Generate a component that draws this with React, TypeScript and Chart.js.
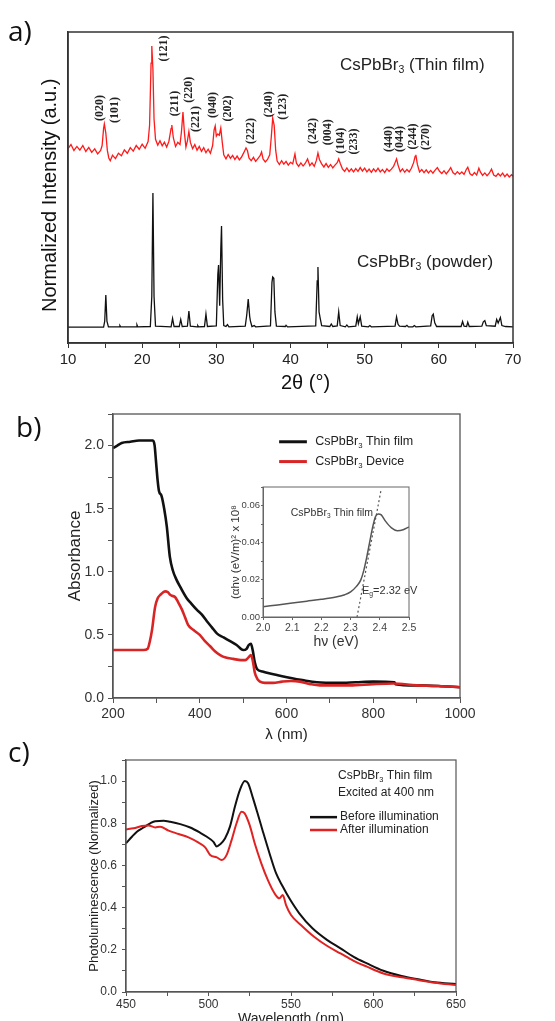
import React, { useEffect, useRef } from 'react';
import { Chart, registerables } from 'chart.js';
Chart.register(...registerables);

const FAMILY = '"Liberation Sans", Arial, sans-serif';
Chart.defaults.font.family = FAMILY;

// ---------------- Panel a: XRD ----------------
const xrdFilm: [number, number][] = [
  [10.0, 62.5], [10.4, 63.8], [10.8, 61.9], [11.2, 63.2], [11.6, 62.0], [12.0, 63.5], [12.4, 61.6], [12.8, 62.9],
  [13.2, 61.3], [13.6, 62.4], [14.0, 60.8], [14.4, 61.9], [14.6, 63.5], [14.8, 69.0], [14.9, 70.4], [15.1, 67.5],
  [15.3, 62.0], [15.5, 59.5], [15.7, 58.6], [16.0, 60.4], [16.4, 59.3], [16.8, 61.0], [17.2, 60.2], [17.6, 62.1],
  [18.0, 61.0], [18.4, 62.8], [18.8, 61.7], [19.2, 63.5], [19.6, 62.3], [20.0, 63.9], [20.4, 62.6], [20.8, 64.8],
  [21.0, 70.0], [21.2, 90.0], [21.3, 95.5], [21.45, 88.0], [21.6, 72.0], [21.8, 65.5], [22.1, 63.6], [22.4, 65.0],
  [22.7, 63.4], [23.0, 64.6], [23.3, 63.0], [23.6, 64.8], [23.9, 69.0], [24.0, 70.1], [24.2, 66.0], [24.5, 63.2],
  [24.8, 64.5], [25.1, 63.8], [25.3, 68.0], [25.5, 74.3], [25.7, 67.5], [25.9, 63.0], [26.1, 65.0], [26.3, 68.0],
  [26.5, 64.5], [26.8, 62.5], [27.1, 63.8], [27.4, 62.0], [27.7, 63.2], [28.0, 61.6], [28.3, 62.8], [28.6, 61.2],
  [28.9, 62.3], [29.2, 61.0], [29.5, 63.5], [29.7, 68.5], [29.85, 69.8], [30.0, 66.5], [30.2, 67.2], [30.4, 66.8],
  [30.6, 69.1], [30.8, 64.5], [31.0, 60.5], [31.3, 59.2], [31.6, 60.6], [31.9, 59.4], [32.2, 60.3], [32.5, 59.0],
  [32.8, 60.1], [33.1, 58.9], [33.4, 59.8], [33.7, 61.2], [34.0, 62.7], [34.2, 61.8], [34.4, 59.5], [34.7, 58.6],
  [35.0, 59.7], [35.3, 58.4], [35.6, 59.3], [35.9, 60.2], [36.1, 61.4], [36.3, 59.2], [36.6, 58.2], [36.9, 59.0],
  [37.2, 60.5], [37.4, 66.0], [37.6, 72.3], [37.8, 70.0], [38.0, 62.0], [38.2, 58.5], [38.5, 57.4], [38.8, 58.6],
  [39.1, 57.5], [39.4, 58.4], [39.7, 57.2], [40.0, 58.1], [40.3, 57.6], [40.6, 60.8], [40.8, 57.8], [41.1, 56.8],
  [41.4, 57.9], [41.7, 56.9], [42.0, 57.8], [42.3, 59.2], [42.6, 57.0], [42.9, 57.9], [43.2, 56.8], [43.5, 58.8],
  [43.7, 61.1], [43.9, 59.0], [44.2, 57.6], [44.5, 56.6], [44.8, 57.7], [45.1, 56.5], [45.4, 57.4], [45.7, 56.3],
  [46.0, 57.2], [46.3, 58.0], [46.5, 59.2], [46.7, 57.8], [47.0, 56.0], [47.3, 55.2], [47.6, 56.3], [47.9, 55.1],
  [48.2, 56.0], [48.5, 55.0], [48.8, 56.1], [49.1, 55.2], [49.4, 56.4], [49.7, 55.3], [50.0, 56.2], [50.3, 55.0],
  [50.6, 55.9], [50.9, 54.9], [51.2, 56.0], [51.5, 55.1], [51.8, 56.2], [52.1, 55.0], [52.4, 55.8], [52.7, 54.8],
  [53.0, 56.0], [53.3, 55.2], [53.6, 55.9], [53.9, 56.8], [54.1, 58.0], [54.3, 59.2], [54.5, 57.2], [54.8, 55.1],
  [55.1, 56.0], [55.4, 54.9], [55.7, 55.8], [56.0, 55.0], [56.3, 56.2], [56.6, 58.0], [56.8, 60.0], [56.9, 60.5],
  [57.1, 57.5], [57.4, 55.0], [57.7, 55.8], [58.0, 54.8], [58.3, 55.7], [58.6, 54.7], [58.9, 55.5], [59.2, 54.6],
  [59.5, 55.6], [59.8, 56.4], [60.1, 55.2], [60.4, 54.5], [60.7, 55.4], [61.0, 54.4], [61.3, 55.3], [61.6, 56.4],
  [61.9, 54.8], [62.2, 54.2], [62.5, 55.1], [62.8, 54.3], [63.1, 55.0], [63.4, 54.2], [63.7, 55.8], [63.9, 56.5],
  [64.2, 54.4], [64.5, 53.9], [64.8, 54.8], [65.1, 54.0], [65.4, 56.2], [65.6, 55.0], [65.9, 53.9], [66.2, 54.7],
  [66.5, 53.8], [66.8, 54.6], [67.1, 55.9], [67.4, 54.0], [67.7, 53.6], [68.0, 54.5], [68.3, 53.7], [68.6, 54.6],
  [68.9, 53.5], [69.2, 54.3], [69.5, 53.4], [69.8, 54.1], [70.0, 53.6],
];

const xrdPowder: [number, number][] = [
  [10, 5.1], [14.8, 5.1], [14.95, 7], [15.1, 15.4], [15.25, 7], [15.45, 5.2], [16.9, 5.2], [17.0, 5.6], [17.1, 5.2],
  [19.2, 5.2], [19.3, 5.8], [19.4, 5.2], [21.1, 5.3], [21.3, 15], [21.45, 48.2], [21.6, 15], [21.8, 5.4],
  [23.9, 5.2], [24.1, 7.9], [24.3, 5.3], [25.0, 5.3], [25.2, 7.6], [25.4, 5.3], [26.1, 5.4], [26.3, 10.3], [26.5, 5.4],
  [27.4, 5.2], [27.5, 5.6], [27.6, 5.2], [28.4, 5.3], [28.6, 9.3], [28.8, 5.3], [30.0, 5.5], [30.2, 22], [30.3, 25.1],
  [30.45, 12], [30.6, 30], [30.7, 37.6], [30.85, 14], [31.0, 5.6], [31.3, 5.3], [31.5, 5.9], [31.7, 5.2],
  [33.9, 5.4], [34.1, 9], [34.3, 14.1], [34.5, 8.5], [34.6, 7], [34.8, 5.3], [35.1, 5.6], [35.3, 5.2],
  [37.3, 5.5], [37.5, 19.5], [37.6, 21.2], [37.75, 20.8], [37.9, 10], [38.1, 5.4], [39.3, 5.3], [39.4, 5.7], [39.6, 5.2],
  [43.4, 5.5], [43.6, 20], [43.7, 24.4], [43.85, 10], [44.0, 8], [44.2, 5.6], [45.3, 5.3], [45.5, 6.1], [45.7, 5.3],
  [46.3, 5.5], [46.5, 10.0], [46.7, 5.6], [47.4, 5.2], [47.6, 5.8], [47.8, 5.2], [48.8, 5.4], [49.0, 8.4], [49.15, 6.2],
  [49.4, 8.4], [49.6, 5.4], [50.5, 5.2], [50.7, 5.6], [50.9, 5.2], [54.1, 5.4], [54.3, 8.4], [54.5, 6], [54.7, 5.4],
  [55.5, 5.3], [55.7, 5.7], [55.9, 5.2], [56.5, 5.2], [56.7, 5.6], [56.9, 5.2], [58.9, 5.5], [59.1, 8.8], [59.25, 9.3],
  [59.45, 6.5], [59.7, 5.3], [63.0, 5.3], [63.2, 6.9], [63.4, 5.4], [63.75, 5.3], [63.9, 6.7], [64.1, 5.3],
  [65.8, 5.4], [66.0, 6.8], [66.2, 7.2], [66.4, 5.6], [67.6, 5.4], [67.8, 7.6], [68.0, 6.4], [68.3, 8.2], [68.5, 5.6],
  [69.0, 5.3], [70, 5.2],
];

const xrdPeakLabels = ['(020)', '(101)', '(121)', '(211)', '(220)', '(221)', '(040)', '(202)', '(222)', '(240)',
  '(123)', '(242)', '(004)', '(104)', '(233)', '(440)', '(044)', '(244)', '(270)'];
const xrdPeakLabelAngles = [14.3, 16.3, 22.9, 24.4, 26.3, 27.25, 29.5, 31.6, 34.7, 37.1, 39.0, 43.0, 45.0, 46.8,
  48.5, 53.3, 54.7, 56.5, 58.2];
const xrdPeakLabelLevels = [75.6, 74.9, 94.7, 77.0, 81.4, 72.0, 76.5, 75.4, 68.2, 76.8, 76.0, 68.2, 67.8, 65.0,
  64.8, 65.6, 65.6, 66.4, 66.2];

// ---------------- Panel b: absorbance ----------------
const absFilm: [number, number][] = [
  [200, 1.98], [210, 2.0], [220, 2.02], [240, 2.03], [260, 2.04], [280, 2.04], [292, 2.04], [296, 2.0], [299, 1.88],
  [303, 1.72], [306, 1.64], [312, 1.6], [318, 1.5], [324, 1.36], [331, 1.12], [338, 1.01], [346, 0.94], [355, 0.88],
  [370, 0.79], [380, 0.75], [393, 0.7], [405, 0.66], [416, 0.61], [428, 0.56], [440, 0.51], [455, 0.48], [470, 0.45],
  [485, 0.42], [500, 0.38], [508, 0.39], [513, 0.42], [518, 0.43], [522, 0.38], [527, 0.28], [532, 0.23], [545, 0.21],
  [555, 0.2], [580, 0.18], [601, 0.165], [640, 0.14], [670, 0.125], [720, 0.12], [760, 0.125], [800, 0.13],
  [849, 0.125], [851, 0.11], [900, 0.1], [950, 0.095], [1000, 0.085],
];
const absDevice: [number, number][] = [
  [200, 0.38], [270, 0.38], [280, 0.39], [285, 0.45], [290, 0.54], [297, 0.72], [303, 0.79], [310, 0.82], [320, 0.845],
  [326, 0.84], [331, 0.82], [336, 0.81], [343, 0.8], [350, 0.76], [359, 0.7], [366, 0.64], [373, 0.58], [385, 0.54],
  [400, 0.5], [412, 0.45], [424, 0.41], [435, 0.37], [447, 0.34], [460, 0.32], [477, 0.31], [495, 0.3], [505, 0.3],
  [512, 0.32], [518, 0.34], [522, 0.3], [527, 0.2], [533, 0.15], [539, 0.13], [550, 0.12], [569, 0.12], [590, 0.13],
  [610, 0.135], [631, 0.13], [655, 0.11], [677, 0.1], [746, 0.1], [800, 0.11], [846, 0.115], [900, 0.1], [950, 0.095],
  [1000, 0.085],
];
const absLegend = ['Thin film', 'Device'];

// inset: Tauc plot
const taucCurve: [number, number][] = [
  [2.0, 0.0055], [2.05, 0.0065], [2.1, 0.0075], [2.15, 0.0085], [2.2, 0.0095], [2.25, 0.0108], [2.28, 0.012],
  [2.3, 0.0135], [2.32, 0.0165], [2.335, 0.02], [2.345, 0.025], [2.355, 0.032], [2.365, 0.04], [2.375, 0.048],
  [2.385, 0.054], [2.395, 0.0555], [2.405, 0.055], [2.42, 0.0515], [2.44, 0.048], [2.46, 0.0465], [2.48, 0.047],
  [2.5, 0.0485],
];
const taucTangent: [number, number][] = [[2.322, 0], [2.405, 0.069]];

// ---------------- Panel c: PL ----------------
const plBefore: [number, number][] = [
  [450, 0.705], [453.6, 0.736], [456.6, 0.76], [460.7, 0.78], [464.7, 0.8], [467.7, 0.81], [472.8, 0.812],
  [476.8, 0.807], [482.9, 0.796], [488.9, 0.78], [495, 0.755], [499, 0.736], [503, 0.712], [505, 0.69], [507, 0.7],
  [510, 0.728], [513, 0.784], [516, 0.878], [519, 0.957], [522, 1.0], [524, 0.99], [527, 0.918], [530, 0.84],
  [533, 0.76], [537, 0.657], [541, 0.562], [545, 0.5], [549, 0.444], [555, 0.373], [563, 0.302], [572, 0.246],
  [580, 0.207], [588, 0.167], [596, 0.136], [606, 0.101], [617, 0.076], [627, 0.06], [637, 0.046], [650, 0.038],
];
const plAfter: [number, number][] = [
  [450, 0.771], [454.6, 0.776], [459.6, 0.787], [463.6, 0.79], [467.7, 0.78], [470.7, 0.784], [475.8, 0.765],
  [481.9, 0.749], [487.9, 0.733], [494, 0.708], [498, 0.686], [501, 0.65], [505, 0.638], [508, 0.626], [511, 0.65],
  [514, 0.72], [517, 0.8], [520, 0.855], [521.9, 0.847], [525, 0.79], [528, 0.705], [532, 0.61], [536, 0.53],
  [540, 0.468], [543, 0.444], [545, 0.46], [547, 0.412], [550, 0.365], [556, 0.318], [564, 0.262], [572, 0.218],
  [580, 0.183], [588, 0.148], [596, 0.12], [606, 0.088], [617, 0.07], [627, 0.057], [637, 0.044], [650, 0.033],
];
const plLegend = ['Before illumination', 'After illumination'];

// ---------------- helpers ----------------
type Part = [string, boolean];
const toXY = (arr: [number, number][]) => arr.map(([x, y]) => ({ x, y }));

function drawRich(ctx: CanvasRenderingContext2D, x: number, y: number, parts: Part[], size: number, color: string,
  align: 'left' | 'center' = 'left', family = FAMILY) {
  ctx.save();
  ctx.fillStyle = color;
  ctx.textBaseline = 'middle';
  ctx.textAlign = 'left';
  const sub = size * 0.62;
  let w = 0;
  parts.forEach(([t, s]) => { ctx.font = `${s ? sub : size}px ${family}`; w += ctx.measureText(t).width; });
  let cx = align === 'center' ? x - w / 2 : x;
  parts.forEach(([t, s]) => {
    ctx.font = `${s ? sub : size}px ${family}`;
    ctx.fillText(t, cx, s ? y + size * 0.32 : y);
    cx += ctx.measureText(t).width;
  });
  ctx.restore();
}

const boxPlugin = (color: string, width: number) => ({
  id: 'box',
  afterDraw(chart: any) {
    const { ctx, chartArea: a } = chart;
    ctx.save();
    ctx.strokeStyle = color;
    ctx.lineWidth = width;
    ctx.strokeRect(a.left, a.top, a.right - a.left, a.bottom - a.top);
    ctx.restore();
  },
});

const line = (data: [number, number][], color: string, width: number, extra: any = {}) => ({
  data: toXY(data), borderColor: color, backgroundColor: color, borderWidth: width, pointRadius: 0, fill: false,
  tension: 0, ...extra,
});

const baseOpts = (padding: any) => ({
  responsive: false, animation: false as const, events: [] as any[],
  layout: { padding },
  plugins: { legend: { display: false }, tooltip: { enabled: false } },
});

// ---------------- configs ----------------
function configA(): any {
  return {
    type: 'line',
    data: {
      datasets: [
        line(xrdPowder, '#111111', 1.3),
        line(xrdFilm, '#ff1a1a', 1.3),
      ],
    },
    options: {
      ...baseOpts({ left: 0, right: 42, top: 32, bottom: 0 }),
      scales: {
        x: {
          type: 'linear', min: 10, max: 70,
          ticks: { stepSize: 5, autoSkip: false, maxRotation: 0, padding: 3, color: '#222', font: { size: 15 },
            callback: (v: number) => (v % 10 === 0 ? String(v) : '') },
          grid: { drawOnChartArea: false, tickLength: 5, color: '#333' },
          border: { color: '#333', width: 1.5 },
          title: { display: true, text: '\u2003\u20022θ (°)', color: '#111', font: { size: 20 }, padding: { top: 0, bottom: 5 } },
          afterFit: (s: any) => { s.height = 57; },
        },
        y: {
          type: 'linear', min: 0, max: 100,
          ticks: { display: false }, grid: { display: false },
          border: { color: '#333', width: 1.5 },
          title: { display: true, text: 'Normalized Intensity (a.u.)\u2002 ', color: '#111', font: { size: 20 },
            padding: { top: 38, bottom: 0 } },
          afterFit: (s: any) => { s.width = 68; },
        },
      },
    },
    plugins: [boxPlugin('#333', 1.5), {
      id: 'xrdText',
      afterDatasetsDraw(chart: any) {
        const { ctx, scales: { x, y } } = chart;
        ctx.save();
        ctx.fillStyle = '#222';
        ctx.font = 'bold 12px "Liberation Serif", "Times New Roman", serif';
        ctx.textAlign = 'center';
        ctx.textBaseline = 'middle';
        xrdPeakLabels.forEach((t, i) => {
          ctx.save();
          ctx.translate(x.getPixelForValue(xrdPeakLabelAngles[i]), y.getPixelForValue(xrdPeakLabelLevels[i]));
          ctx.rotate(-Math.PI / 2);
          ctx.fillText(t, 0, 0);
          ctx.restore();
        });
        ctx.restore();
        drawRich(ctx, x.getPixelForValue(46.66), y.getPixelForValue(89.4),
          [['CsPbBr', false], ['3', true], [' (Thin film)', false]], 17, '#222');
        drawRich(ctx, x.getPixelForValue(48.95), y.getPixelForValue(26.0),
          [['CsPbBr', false], ['3', true], [' (powder)', false]], 17, '#222');
      },
    }],
  };
}

function configB(): any {
  return {
    type: 'line',
    data: {
      datasets: [
        line(absDevice, '#d82424', 2.6, { cubicInterpolationMode: 'monotone' }),
        line(absFilm, '#111111', 2.6, { cubicInterpolationMode: 'monotone' }),
      ],
    },
    options: {
      ...baseOpts({ left: 0, right: 95, top: 14, bottom: 0 }),
      scales: {
        x: {
          type: 'linear', min: 200, max: 1000,
          ticks: { stepSize: 100, autoSkip: false, maxRotation: 0, padding: 3, color: '#333', font: { size: 14 },
            callback: (v: number) => (v % 200 === 0 ? String(v) : '') },
          grid: { drawOnChartArea: false, tickLength: 5, color: '#555' },
          border: { color: '#555', width: 1.3 },
          title: { display: true, text: 'λ (nm)', color: '#222', font: { size: 15 }, padding: { top: 0, bottom: 1 } },
          afterFit: (s: any) => { s.height = 47; },
        },
        y: {
          type: 'linear', min: 0, max: 2.25,
          ticks: { stepSize: 0.25, autoSkip: false, padding: 4, color: '#333', font: { size: 14 },
            callback: (v: number) => (Math.abs(v * 2 - Math.round(v * 2)) < 1e-6 ? v.toFixed(1) : '') },
          grid: { drawOnChartArea: false, tickLength: 5, color: '#555' },
          border: { color: '#555', width: 1.3 },
          title: { display: true, text: 'Absorbance', color: '#222', font: { size: 17 }, padding: { top: 65, bottom: 0 } },
          afterFit: (s: any) => { s.width = 113; },
        },
      },
    },
    plugins: [boxPlugin('#555', 1.3), {
      id: 'absLegend',
      afterDatasetsDraw(chart: any) {
        const { ctx, scales: { x, y } } = chart;
        const rows: [string, number, string][] = [[absLegend[0], 2.03, '#111111'], [absLegend[1], 1.873, '#d82424']];
        rows.forEach(([t, lv, c]) => {
          const py = y.getPixelForValue(lv);
          ctx.save();
          ctx.strokeStyle = c; ctx.lineWidth = 3;
          ctx.beginPath(); ctx.moveTo(x.getPixelForValue(583), py); ctx.lineTo(x.getPixelForValue(647), py); ctx.stroke();
          ctx.restore();
          drawRich(ctx, x.getPixelForValue(666), py, [['CsPbBr', false], ['3', true], [' ' + t, false]], 12.5, '#222');
        });
      },
    }],
  };
}

function configInset(): any {
  return {
    type: 'line',
    data: {
      datasets: [
        line(taucTangent, '#555555', 1.2, { borderDash: [2, 2.5] }),
        line(taucCurve, '#555555', 1.5, { cubicInterpolationMode: 'monotone' }),
      ],
    },
    options: {
      ...baseOpts({ left: 0, right: 11, top: 17, bottom: 0 }),
      scales: {
        x: {
          type: 'linear', min: 2.0, max: 2.5,
          ticks: { stepSize: 0.1, autoSkip: false, maxRotation: 0, padding: 1.5, color: '#444', font: { size: 10.5 },
            callback: (v: number) => v.toFixed(1) },
          grid: { drawOnChartArea: false, tickLength: 3, color: '#666' },
          border: { color: '#666', width: 1 },
          title: { display: true, text: 'hν (eV)', color: '#333', font: { size: 14 }, padding: { top: 0, bottom: 4.6 } },
          afterFit: (s: any) => { s.height = 38; },
        },
        y: {
          type: 'linear', min: 0, max: 0.07,
          ticks: { stepSize: 0.01, autoSkip: false, padding: 1, color: '#444', font: { size: 9.5 },
            callback: (v: number) => (Math.round(v * 100) % 2 === 0 ? v.toFixed(2) : '') },
          grid: { drawOnChartArea: false, tickLength: 2, color: '#666' },
          border: { color: '#666', width: 1 },
          title: { display: true, text: '(αhν (eV/m)² x 10⁸', color: '#333', font: { size: 11.5 },
            padding: { top: 29, bottom: 0 } },
          afterFit: (s: any) => { s.width = 63; },
        },
      },
    },
    plugins: [boxPlugin('#666', 1), {
      id: 'insetText',
      afterDatasetsDraw(chart: any) {
        const { ctx, scales: { x, y } } = chart;
        drawRich(ctx, x.getPixelForValue(2.095), y.getPixelForValue(0.0562),
          [['CsPbBr', false], ['3', true], [' Thin film', false]], 10.5, '#333');
        drawRich(ctx, x.getPixelForValue(2.339), y.getPixelForValue(0.0141),
          [['E', false], ['g', true], ['=2.32 eV', false]], 11, '#333');
      },
    }],
  };
}

function configC(): any {
  return {
    type: 'line',
    data: {
      datasets: [
        line(plAfter, '#e02222', 2, { cubicInterpolationMode: 'monotone' }),
        line(plBefore, '#111111', 2, { cubicInterpolationMode: 'monotone' }),
      ],
    },
    options: {
      ...baseOpts({ left: 0, right: 99, top: 15, bottom: 0 }),
      scales: {
        x: {
          type: 'linear', min: 450, max: 650,
          ticks: { stepSize: 25, autoSkip: false, maxRotation: 0, padding: 1, color: '#333', font: { size: 12 },
            callback: (v: number) => (v % 50 === 0 ? String(v) : '') },
          grid: { drawOnChartArea: false, tickLength: 4, color: '#555' },
          border: { color: '#555', width: 1.2 },
          title: { display: true, text: 'Wavelength (nm)', color: '#222', font: { size: 14 }, padding: { top: 0, bottom: 7.6 } },
          afterFit: (s: any) => { s.height = 43; },
        },
        y: {
          type: 'linear', min: 0, max: 1.1,
          ticks: { stepSize: 0.1, autoSkip: false, padding: 5, color: '#333', font: { size: 12 },
            callback: (v: number) => (Math.round(v * 10) % 2 === 0 ? v.toFixed(1) : '') },
          grid: { drawOnChartArea: false, tickLength: 4, color: '#555' },
          border: { color: '#555', width: 1.2 },
          title: { display: true, text: 'Photoluminescence (Normalized)', color: '#222', font: { size: 13 },
            padding: { top: 87, bottom: 0 } },
          afterFit: (s: any) => { s.width = 126; },
        },
      },
    },
    plugins: [boxPlugin('#555', 1.2), {
      id: 'plLegend',
      afterDatasetsDraw(chart: any) {
        const { ctx, scales: { x, y } } = chart;
        drawRich(ctx, x.getPixelForValue(578.5), y.getPixelForValue(1.024),
          [['CsPbBr', false], ['3', true], [' Thin film', false]], 12, '#222');
        drawRich(ctx, x.getPixelForValue(578.5), y.getPixelForValue(0.943), [['Excited at 400 nm', false]], 12, '#222');
        const rows: [string, number, string][] = [[plLegend[0], 0.829, '#111111'], [plLegend[1], 0.768, '#e02222']];
        rows.forEach(([t, lv, c]) => {
          const py = y.getPixelForValue(lv);
          ctx.save();
          ctx.strokeStyle = c; ctx.lineWidth = 2.5;
          ctx.beginPath(); ctx.moveTo(x.getPixelForValue(561.5), py); ctx.lineTo(x.getPixelForValue(577.9), py); ctx.stroke();
          ctx.restore();
          drawRich(ctx, x.getPixelForValue(579.7), py, [[t, false]], 12, '#222');
        });
      },
    }],
  };
}

const panelLabel = (text: string, left: number, top: number) => (
  <div style={{ position: 'absolute', left, top, font: '28px "Open Sans", "Liberation Sans", sans-serif',
    lineHeight: '28px', color: '#111' }}>{text}</div>
);

export default function App() {
  const aRef = useRef<HTMLCanvasElement>(null);
  const bRef = useRef<HTMLCanvasElement>(null);
  const iRef = useRef<HTMLCanvasElement>(null);
  const cRef = useRef<HTMLCanvasElement>(null);

  useEffect(() => {
    const charts = [
      new Chart(aRef.current!, configA()),
      new Chart(bRef.current!, configB()),
      new Chart(iRef.current!, configInset()),
      new Chart(cRef.current!, configC()),
    ];
    return () => charts.forEach((c) => c.destroy());
  }, []);

  return (
    <div style={{ position: 'absolute', left: 0, top: 0, width: 555, height: 1021, overflow: 'hidden', background: '#fff' }}>
      <canvas ref={aRef} width={555} height={400} style={{ position: 'absolute', left: 0, top: 0 }} />
      <canvas ref={bRef} width={555} height={345} style={{ position: 'absolute', left: 0, top: 400 }} />
      <canvas ref={iRef} width={220} height={185} style={{ position: 'absolute', left: 200, top: 470 }} />
      <canvas ref={cRef} width={555} height={290} style={{ position: 'absolute', left: 0, top: 745 }} />
      {panelLabel('a)', 8, 16)}
      {panelLabel('b)', 16, 412)}
      {panelLabel('c)', 8, 737)}
    </div>
  );
}
